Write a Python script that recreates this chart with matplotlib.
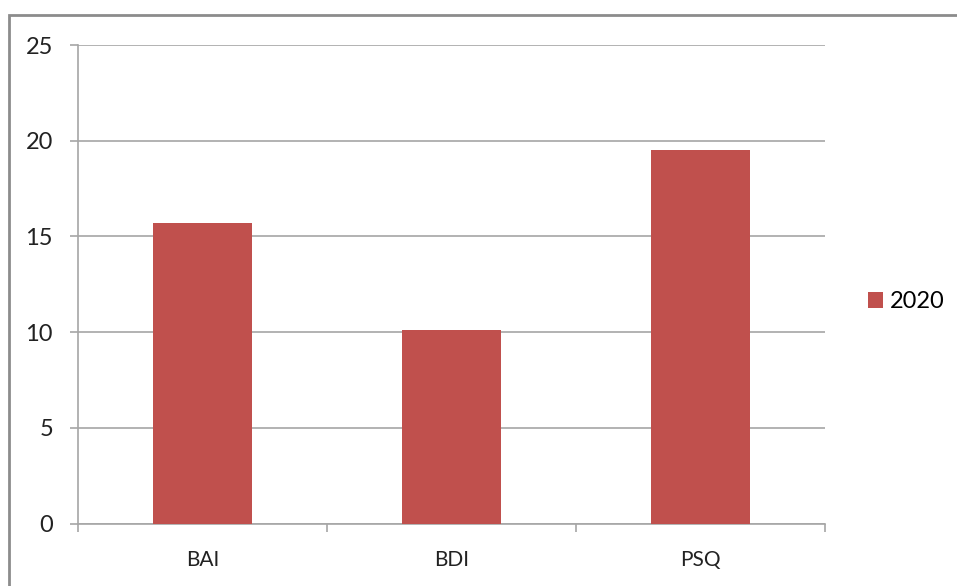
import matplotlib
matplotlib.use("Agg")
import matplotlib.pyplot as plt
from matplotlib.patches import Rectangle

categories = ["BAI", "BDI", "PSQ"]
values_2020 = [15.7, 10.1, 19.5]
y_ticks = [0, 5, 10, 15, 20, 25]
series_label = "2020"

W, H = 957, 586
fig = plt.figure(figsize=(W / 100, H / 100), dpi=100)
plt.rcParams["font.family"] = ["Lato", "DejaVu Sans"]

# outer chart frame (runs off the right and bottom edges)
fig.patches.append(Rectangle((9 / W, -0.05), 1.2, 1 - 15 / H + 0.05,
                             transform=fig.transFigure, fill=False,
                             edgecolor="#8c8c8c", linewidth=2))

ax = fig.add_axes([78 / W, 1 - 523.5 / H, (825 - 78) / W, (523.5 - 45) / H])
grey = "#a6a6a6"
x = list(range(len(categories)))
ax.bar(x, values_2020, width=0.4, color="#c0504d", label=series_label, zorder=3)

ax.set_xlim(-0.5, len(categories) - 0.5)
ax.set_ylim(0, 25)
ax.set_yticks(y_ticks)
ax.set_yticklabels([str(v) for v in y_ticks], fontsize=17, color="#222222")
ax.set_xticks(x)
ax.set_xticklabels(categories, fontsize=15, color="#222222")
ax.tick_params(axis="x", length=0, pad=19)
ax.tick_params(axis="y", length=6, color=grey, width=1.2, pad=12)
# category boundary ticks on the x axis
ax.set_xticks([i - 0.5 for i in range(len(categories) + 1)], minor=True)
ax.tick_params(axis="x", which="minor", length=6, color=grey, width=1.2)

ax.grid(axis="y", color=grey, linewidth=1.2, zorder=0)
for side in ["top", "right"]:
    ax.spines[side].set_visible(False)
for side in ["left", "bottom"]:
    ax.spines[side].set_color(grey)
    ax.spines[side].set_linewidth(1.2)

fig.legend(loc="center left", bbox_to_anchor=(868 / W, 1 - 302 / H),
           frameon=False, fontsize=17, handlelength=0.64, handleheight=0.64,
           handletextpad=0.3, borderpad=0, borderaxespad=0)

fig.savefig("out.png", dpi=100, facecolor="white")
